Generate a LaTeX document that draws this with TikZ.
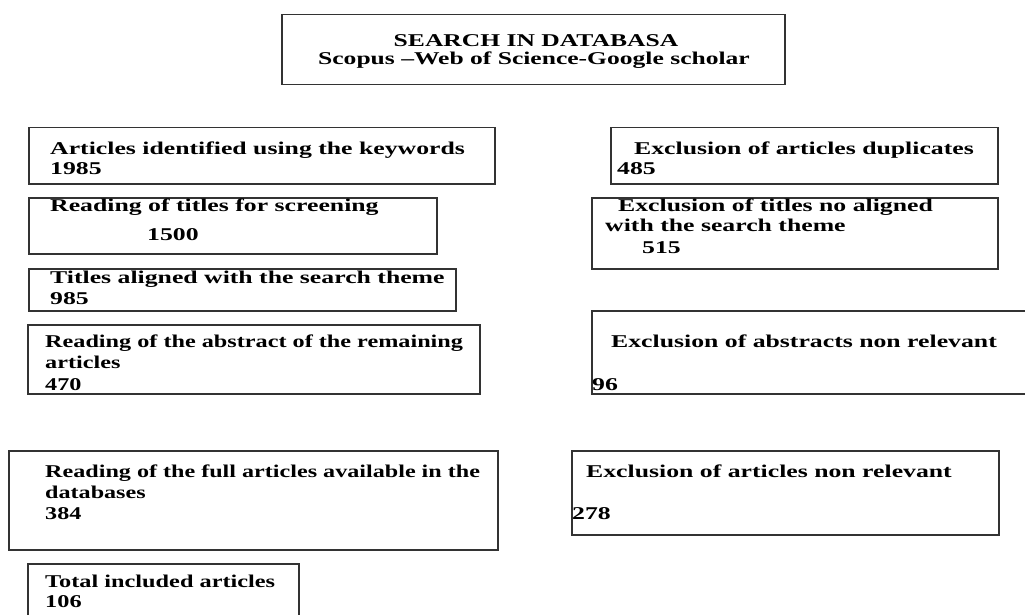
\documentclass[tikz,border=0pt]{standalone}
\usepackage{fontspec}
\usepackage{graphicx}
\setmainfont{Liberation Serif}
\newcommand\sx[2][1.43]{\scalebox{#1}[1]{#2}}
\begin{document}
\begin{tikzpicture}[x=1pt,y=-1pt,
  box/.style={draw=black!80, line width=1.5pt, inner sep=0pt, anchor=north west},
  txt/.style={anchor=base west, inner sep=0pt, font=\fontsize{18}{22}\selectfont\bfseries},
  ctxt/.style={anchor=base, inner sep=0pt, font=\fontsize{18}{22}\selectfont\bfseries}]
\useasboundingbox (0,0) rectangle (1025,615);
\clip (0,0) rectangle (1025,615);
% top box
\node[box, minimum width=503, minimum height=70] (top) at (281,14) {};
\node[ctxt] (topa) at (536,47) {\sx[1.42]{SEARCH IN DATABASA}};
\node[ctxt] (topb) at (534,65) {\sx[1.42]{Scopus --Web of Science-Google scholar}};
% left column
\node[box, minimum width=466, minimum height=56] (l1) at (28,127) {};
\node[txt] (l1a) at (50,154) {\sx{Articles identified using the keywords}};
\node[txt] (l1b) at (50,175) {\sx{1985}};
\node[box, minimum width=408, minimum height=56] (l2) at (28,197) {};
\node[txt] (l2a) at (50,211) {\sx{Reading of titles for screening}};
\node[txt] (l2b) at (147,240) {\sx{1500}};
\node[box, minimum width=427, minimum height=42] (l3) at (28,268) {};
\node[txt] (l3a) at (50,283) {\sx{Titles aligned with the search theme}};
\node[txt] (l3b) at (50,304) {\sx{985}};
\node[box, minimum width=452, minimum height=69] (l4) at (27,324) {};
\node[txt] (l4a) at (45,347) {\sx[1.345]{Reading of the abstract of the remaining}};
\node[txt] (l4b) at (45,368) {\sx[1.345]{articles}};
\node[txt] (l4c) at (45,390) {\sx[1.345]{470}};
\node[box, minimum width=489, minimum height=99] (l5) at (8,450) {};
\node[txt] (l5a) at (45,477) {\sx[1.34]{Reading of the full articles available in the}};
\node[txt] (l5b) at (45,498) {\sx[1.34]{databases}};
\node[txt] (l5c) at (45,519) {\sx[1.34]{384}};
\node[box, minimum width=271, minimum height=70] (l6) at (27,563) {};
\node[txt] (l6a) at (45,587) {\sx[1.35]{Total included articles}};
\node[txt] (l6b) at (45,607) {\sx[1.35]{106}};
% right column
\node[box, minimum width=387, minimum height=56] (r1) at (610,127) {};
\node[txt] (r1a) at (634,154) {\sx{Exclusion of articles duplicates}};
\node[txt] (r1b) at (617,175) {\sx{485}};
\node[box, minimum width=406, minimum height=71] (r2) at (591,197) {};
\node[txt] (r2a) at (618,211) {\sx{Exclusion of titles no aligned}};
\node[txt] (r2b) at (605,231) {\sx{with the search theme}};
\node[txt] (r2c) at (642,253) {\sx{515}};
\node[box, minimum width=445, minimum height=83] (r3) at (591,310) {};
\node[txt] (r3a) at (611,347) {\sx{Exclusion of abstracts non relevant}};
\node[txt] (r3b) at (592,390) {\sx{96}};
\node[box, minimum width=427, minimum height=84] (r4) at (571,450) {};
\node[txt] (r4a) at (586,477) {\sx{Exclusion of articles non relevant}};
\node[txt] (r4b) at (572,519) {\sx{278}};
\end{tikzpicture}
\end{document}
